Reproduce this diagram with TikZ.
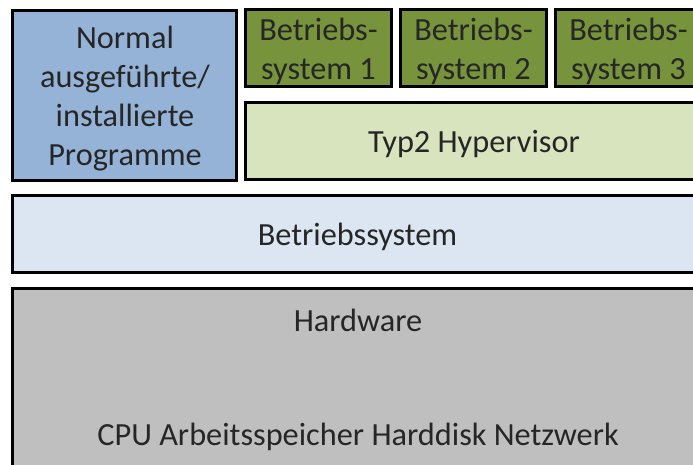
\documentclass[tikz,border=0pt]{standalone}
\usepackage{fontspec}
\setmainfont{Carlito}
\definecolor{progblue}{HTML}{95B3D7}
\definecolor{osgreen}{HTML}{77933C}
\definecolor{hypgreen}{HTML}{D7E4BD}
\definecolor{oslight}{HTML}{DCE6F2}
\definecolor{hwgray}{HTML}{BFBFBF}
\tikzset{
  layer/.style={draw=black, line width=3pt, inner sep=0pt, outer sep=0pt},
  lbl/.style={inner sep=0pt, align=center, font=\fontsize{32.3}{39}\selectfont, text=black!85}
}
\begin{document}
\begin{tikzpicture}[x=1pt,y=-1pt]
\useasboundingbox (0,0) rectangle (693,464);
\clip (0,0) rectangle (693,464);
\fill[white] (0,0) rectangle (693,464);
% Programs
\node[layer, fill=progblue, minimum width=224pt, minimum height=170pt] (prog) at (124.5,95.5) {};
\node[lbl] (progt) at (125,98.5) {Normal\\ausgeführte/\\installierte\\Programme};
% Guest OSes
\node[layer, fill=osgreen, minimum width=146pt, minimum height=77pt] (os1) at (318.5,48) {};
\node[layer, fill=osgreen, minimum width=146pt, minimum height=77pt] (os2) at (473.5,48) {};
\node[layer, fill=osgreen, minimum width=146pt, minimum height=77pt] (os3) at (628.5,48) {};
\node[lbl] (os1t) at (318.5,51) {Betriebs-\\system 1};
\node[lbl] (os2t) at (473.5,51) {Betriebs-\\system 2};
\node[lbl] (os3t) at (628.5,51) {Betriebs-\\system 3};
% Hypervisor
\node[layer, fill=hypgreen, minimum width=457pt, minimum height=77pt] (hyp) at (474,141) {};
\node[lbl] (hypt) at (474,144) {Typ2 Hypervisor};
% Host OS
\node[layer, fill=oslight, minimum width=690pt, minimum height=77pt] (host) at (357.5,234) {};
\node[lbl] (hostt) at (357.5,237) {Betriebssystem};
% Hardware
\node[layer, fill=hwgray, minimum width=690pt, minimum height=220pt] (hw) at (357.5,398.5) {};
\node[lbl] (hwt) at (358,320) {Hardware};
\node[lbl] (hwc) at (358,437) {CPU Arbeitsspeicher Harddisk Netzwerk};
\end{tikzpicture}
\end{document}
